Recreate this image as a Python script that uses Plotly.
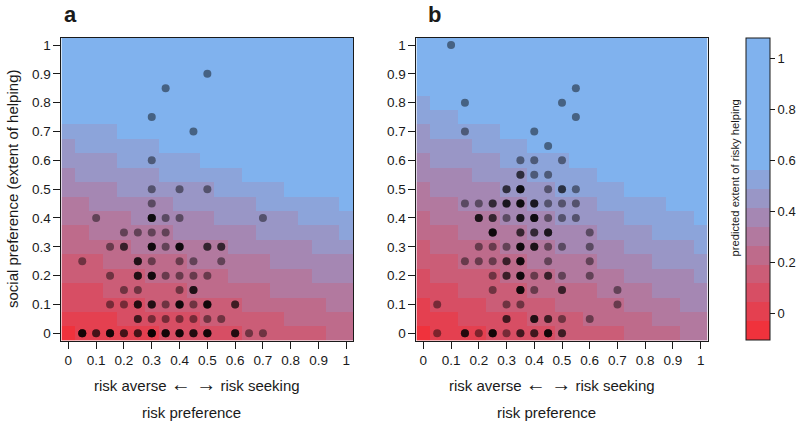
import plotly.graph_objects as go

# ---------------- data ----------------
grid_x = [0, 0.05, 0.1, 0.15, 0.2, 0.25, 0.3, 0.35, 0.4, 0.45, 0.5,
          0.55, 0.6, 0.65, 0.7, 0.75, 0.8, 0.85, 0.9, 0.95, 1]
grid_y = [0, 0.05, 0.1, 0.15, 0.2, 0.25, 0.3, 0.35, 0.4, 0.45, 0.5,
          0.55, 0.6, 0.65, 0.7, 0.75, 0.8, 0.85, 0.9, 0.95, 1]

# colour band (0 = reddest ... 9 = blue) of each cell, row = social preference (0 -> 1)
levels_a = [
    "011111122222233333344",
    "111122222233333344444",
    "222222333333344444455",
    "222333333444444555555",
    "333333444444555555666",
    "333444444555555666666",
    "444445555555666666777",
    "445555556666667777778",
    "555556666667777778888",
    "556666667777778888889",
    "666677777778888899999",
    "677777788888899999999",
    "777788888899999999999",
    "788888899999999999999",
    "888899999999999999999",
    "999999999999999999999",
    "999999999999999999999",
    "999999999999999999999",
    "999999999999999999999",
    "999999999999999999999",
    "999999999999999999999",
]
levels_b = [
    "011112222233333444455",
    "111222223333444445555",
    "122223333344444555566",
    "222333334444455556666",
    "233333444455555666667",
    "333444445555566667777",
    "344444555566666777778",
    "444555556666677778888",
    "455555666677777888889",
    "555666667777788888999",
    "566666777788888999999",
    "666677778888899999999",
    "677777888889999999999",
    "777788889999999999999",
    "788888999999999999999",
    "888999999999999999999",
    "899999999999999999999",
    "999999999999999999999",
    "999999999999999999999",
    "999999999999999999999",
    "999999999999999999999",
]
# predicted value represented by each band
band_value = [-0.066, 0.008, 0.082, 0.155, 0.229, 0.303, 0.377, 0.451, 0.525, 0.80]
band_color = ["rgb(240,50,60)", "rgb(228,64,80)", "rgb(215,78,100)", "rgb(203,93,119)",
              "rgb(190,107,139)", "rgb(178,121,159)", "rgb(165,135,179)",
              "rgb(153,150,198)", "rgb(140,164,218)", "rgb(128,178,238)"]
scale_min, scale_max = -0.103, 1.080

# participants (risk preference, social preference, number of participants)
a_risk = [0.5, 0.35, 0.3, 0.45, 0.3,
          0.3, 0.4, 0.5,
          0.3,
          0.1, 0.3, 0.35, 0.4, 0.7,
          0.2, 0.25, 0.3, 0.35,
          0.15, 0.2, 0.3, 0.35, 0.4, 0.5, 0.55,
          0.05, 0.25, 0.3, 0.4, 0.45, 0.55,
          0.15, 0.25, 0.3, 0.35, 0.4, 0.45, 0.5,
          0.2, 0.25, 0.4, 0.45,
          0.15, 0.2, 0.25, 0.3, 0.35, 0.4, 0.45, 0.5, 0.6,
          0.25, 0.3, 0.35, 0.4, 0.45, 0.5, 0.55,
          0.05, 0.1, 0.15, 0.2, 0.25, 0.3, 0.35, 0.4, 0.45, 0.5, 0.6, 0.65, 0.7]
a_social = [0.9, 0.85, 0.75, 0.7, 0.6,
            0.5, 0.5, 0.5,
            0.45,
            0.4, 0.4, 0.4, 0.4, 0.4,
            0.35, 0.35, 0.35, 0.35,
            0.3, 0.3, 0.3, 0.3, 0.3, 0.3, 0.3,
            0.25, 0.25, 0.25, 0.25, 0.25, 0.25,
            0.2, 0.2, 0.2, 0.2, 0.2, 0.2, 0.2,
            0.15, 0.15, 0.15, 0.15,
            0.1, 0.1, 0.1, 0.1, 0.1, 0.1, 0.1, 0.1, 0.1,
            0.05, 0.05, 0.05, 0.05, 0.05, 0.05, 0.05,
            0, 0, 0, 0, 0, 0, 0, 0, 0, 0, 0, 0, 0]
a_count = [1, 1, 1, 1, 1,
           1, 1, 1,
           1,
           1, 4, 1, 1, 1,
           1, 1, 1, 1,
           1, 2, 4, 1, 4, 2, 2,
           1, 3, 1, 1, 1, 1,
           1, 3, 4, 1, 1, 1, 1,
           1, 1, 1, 3,
           1, 1, 3, 3, 1, 4, 1, 4, 2,
           2, 1, 1, 1, 1, 1, 1,
           4, 2, 4, 2, 2, 5, 4, 4, 3, 4, 3, 1, 1]

b_risk = [0.1, 0.55, 0.15, 0.5, 0.55, 0.15, 0.4, 0.45,
          0.35, 0.4, 0.5,
          0.35, 0.4, 0.45,
          0.3, 0.35, 0.45, 0.5, 0.55,
          0.15, 0.2, 0.25, 0.3, 0.35, 0.4, 0.45, 0.5, 0.55,
          0.2, 0.25, 0.3, 0.35, 0.4, 0.45, 0.5, 0.55,
          0.25, 0.35, 0.4, 0.45, 0.6,
          0.2, 0.25, 0.3, 0.35, 0.4, 0.45, 0.5, 0.6,
          0.15, 0.2, 0.25, 0.3, 0.35, 0.45, 0.6,
          0.25, 0.3, 0.35, 0.4, 0.45, 0.5, 0.6,
          0.25, 0.35, 0.4, 0.5, 0.7,
          0.05, 0.3, 0.35, 0.7,
          0.3, 0.4, 0.45, 0.5, 0.6,
          0.05, 0.15, 0.2, 0.25, 0.3, 0.35, 0.4, 0.45, 0.5]
b_social = [1.0, 0.85, 0.8, 0.8, 0.75, 0.7, 0.7, 0.65,
            0.6, 0.6, 0.6,
            0.55, 0.55, 0.55,
            0.5, 0.5, 0.5, 0.5, 0.5,
            0.45, 0.45, 0.45, 0.45, 0.45, 0.45, 0.45, 0.45, 0.45,
            0.4, 0.4, 0.4, 0.4, 0.4, 0.4, 0.4, 0.4,
            0.35, 0.35, 0.35, 0.35, 0.35,
            0.3, 0.3, 0.3, 0.3, 0.3, 0.3, 0.3, 0.3,
            0.25, 0.25, 0.25, 0.25, 0.25, 0.25, 0.25,
            0.2, 0.2, 0.2, 0.2, 0.2, 0.2, 0.2,
            0.15, 0.15, 0.15, 0.15, 0.15,
            0.1, 0.1, 0.1, 0.1,
            0.05, 0.05, 0.05, 0.05, 0.05,
            0, 0, 0, 0, 0, 0, 0, 0, 0]
b_count = [1, 1, 1, 1, 1, 1, 1, 1,
           1, 1, 1,
           2, 1, 1,
           2, 4, 1, 2, 1,
           1, 1, 2, 3, 4, 3, 1, 1, 1,
           3, 2, 1, 3, 4, 1, 1, 1,
           4, 2, 2, 3, 1,
           1, 1, 1, 4, 3, 1, 1, 1,
           1, 1, 1, 2, 4, 1, 1,
           1, 2, 4, 1, 2, 1, 1,
           1, 4, 1, 2, 1,
           1, 1, 1, 1,
           2, 3, 2, 1, 1,
           1, 3, 1, 4, 1, 2, 2, 4, 2]

tick_vals = [0, 0.1, 0.2, 0.3, 0.4, 0.5, 0.6, 0.7, 0.8, 0.9, 1]
tick_text = ["0", "0.1", "0.2", "0.3", "0.4", "0.5", "0.6", "0.7", "0.8", "0.9", "1"]
bar_vals = [0, 0.2, 0.4, 0.6, 0.8, 1]
bar_text = ["0", "0.2", "0.4", "0.6", "0.8", "1"]

# ---------------- figure ----------------
W, H = 800, 425
FONT = "Liberation Sans, Arial, Helvetica, sans-serif"
INK = "#1a1a1a"

def z_of(rows):
    return [[band_value[int(c)] for c in row] for row in rows]

def expand(xs, ys, ns):
    ox, oy = [], []
    for x, y, n in zip(xs, ys, ns):
        ox += [x] * n
        oy += [y] * n
    return ox, oy

# discrete colour scale: 16 equal bins, bins 9..15 share the blue
nb = 16
cs = []
for k in range(nb):
    c = band_color[min(k, 9)]
    cs.append([k / nb, c])
    cs.append([(k + 1) / nb, c])

fig = go.Figure()
for rows, xa, ya in [(levels_a, "x", "y"), (levels_b, "x2", "y2")]:
    fig.add_trace(go.Heatmap(x=grid_x, y=grid_y, z=z_of(rows), coloraxis="coloraxis",
                             xaxis=xa, yaxis=ya, hoverinfo="skip"))

for xs, ys, ns, xa, ya in [(a_risk, a_social, a_count, "x", "y"),
                           (b_risk, b_social, b_count, "x2", "y2")]:
    px_, py_ = expand(xs, ys, ns)
    fig.add_trace(go.Scatter(x=px_, y=py_, mode="markers", xaxis=xa, yaxis=ya,
                             marker=dict(color="black", size=8, opacity=0.45,
                                         line=dict(width=0)),
                             hoverinfo="skip", showlegend=False))

def px2x(p):
    return p / W

def px2y(p):
    return 1 - p / H

ax_common = dict(range=[-0.025, 1.025], tickvals=tick_vals, ticktext=tick_text,
                 ticks="outside", ticklen=7, tickwidth=1, tickcolor=INK,
                 showline=True, linecolor=INK, linewidth=1, mirror=True,
                 showgrid=False, zeroline=False, fixedrange=True,
                 tickfont=dict(size=13.5, color=INK, family=FONT))

ydom = [px2y(340.5), px2y(37.8)]
fig.update_layout(
    width=W, height=H,
    margin=dict(l=0, r=0, t=0, b=0),
    paper_bgcolor="white", plot_bgcolor="white",
    font=dict(family=FONT, color=INK),
    showlegend=False,
    xaxis=dict(domain=[px2x(61.4), px2x(353.3)], anchor="y", **ax_common),
    yaxis=dict(domain=ydom, anchor="x", **ax_common),
    xaxis2=dict(domain=[px2x(416.4), px2x(707.6)], anchor="y2", **ax_common),
    yaxis2=dict(domain=ydom, anchor="x2", **ax_common),
    coloraxis=dict(
        colorscale=cs, cmin=scale_min, cmax=scale_max,
        colorbar=dict(
            x=px2x(745.5), xanchor="left", xref="paper",
            y=px2y(189.2), yanchor="middle", yref="paper",
            len=302, lenmode="pixels", thickness=24, thicknessmode="pixels",
            xpad=0, ypad=0, outlinewidth=1, outlinecolor=INK,
            tickvals=bar_vals, ticktext=bar_text, ticks="outside", ticklen=5,
            tickcolor=INK, tickfont=dict(size=13, color=INK, family=FONT),
        ),
    ),
)

x_title_1 = ("risk averse <span style='font-size:20px'>\u2190 \u2192</span> risk seeking")
ann = []
ann.append(dict(text="<b>a</b>", x=px2x(62), y=px2y(15), xanchor="left", yanchor="middle",
                font=dict(size=22, color=INK)))
ann.append(dict(text="<b>b</b>", x=px2x(426), y=px2y(15), xanchor="left", yanchor="middle",
                font=dict(size=22, color=INK)))
ann.append(dict(text="social preference (extent of helping)", x=px2x(12), y=px2y(189),
                textangle=-90, xanchor="center", yanchor="middle",
                font=dict(size=15, color=INK)))
for c1, c2 in [(196.5, 191), (551.7, 546.7)]:
    ann.append(dict(text=x_title_1, x=px2x(c1), y=px2y(384),
                    xanchor="center", yanchor="middle", font=dict(size=15, color=INK)))
    ann.append(dict(text="risk preference", x=px2x(c2), y=px2y(412),
                    xanchor="center", yanchor="middle", font=dict(size=15, color=INK)))
ann.append(dict(text="predicted extent of risky helping", x=px2x(735), y=px2y(178.5),
                textangle=-90, xanchor="center", yanchor="middle",
                font=dict(size=11.2, color=INK)))
for a in ann:
    a.update(xref="paper", yref="paper", showarrow=False)
fig.update_layout(annotations=ann)

fig.write_html("out.html",
               config={"displayModeBar": False, "staticPlot": True},
               post_script="document.documentElement.style.margin='0';"
                           "document.body.style.margin='0';"
                           "document.body.style.padding='0';"
                           "document.body.style.overflow='hidden';")
